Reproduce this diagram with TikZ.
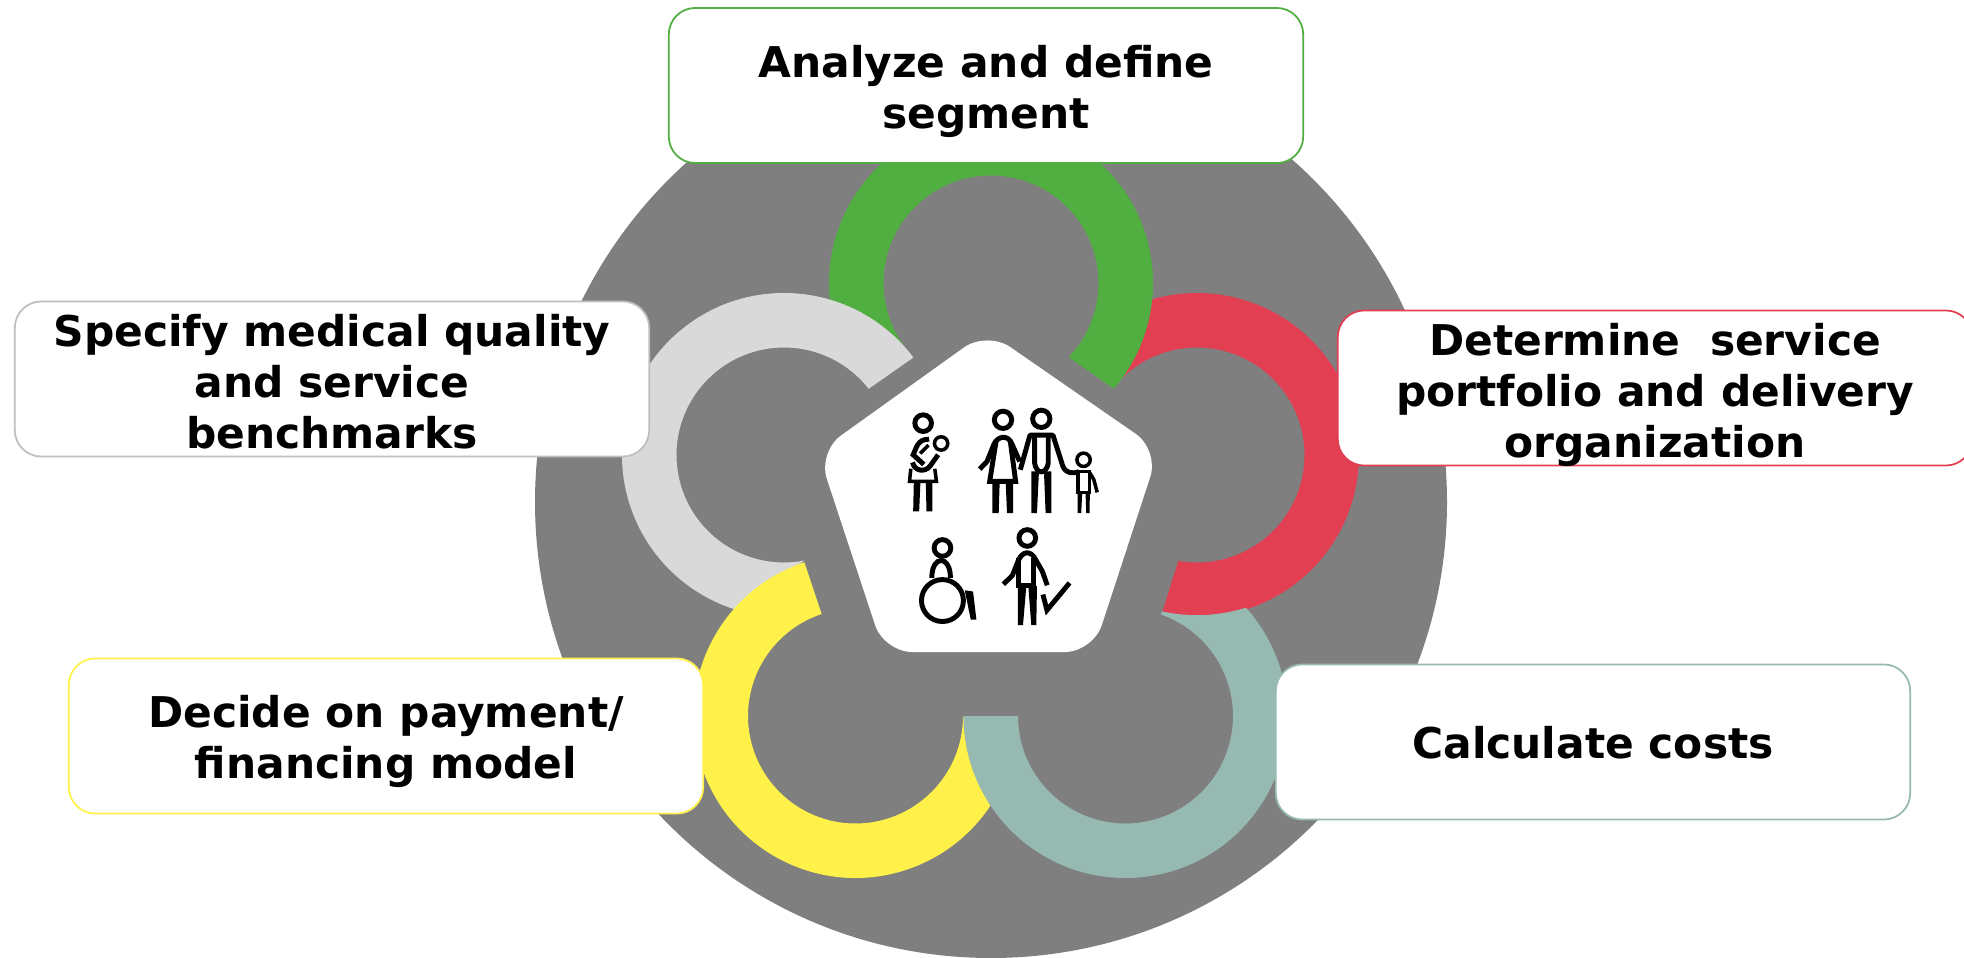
\documentclass[tikz,border=0pt]{standalone}
\usepackage{fontspec}
\setmainfont{DejaVu Sans}
\usetikzlibrary{calc}
\definecolor{bggray}{HTML}{7F7F7F}
\definecolor{ringgreen}{HTML}{51AE40}
\definecolor{ringred}{HTML}{E23F53}
\definecolor{ringgray}{HTML}{D9D9D9}
\definecolor{ringyellow}{HTML}{FFF14A}
\definecolor{ringteal}{HTML}{96B9B2}
\definecolor{edgegray}{HTML}{BFBFBF}
\tikzset{
	stepbox/.style={draw,fill=white,line width=0.5pt,rounded corners=7.5pt,minimum width=6.34cm,minimum height=1.55cm,inner sep=0pt},
	steptext/.style={align=center,inner sep=0pt,font=\fontsize{12.05}{14.5}\selectfont\bfseries},
	iconline/.style={draw=black,line width=1.4pt},
	iconthin/.style={draw=black,line width=1pt}
}
\begin{document}
\begin{tikzpicture}[x=0.01cm,y=0.01cm]
	\useasboundingbox (0,0) rectangle (1964,957);
	\coordinate (middle) at (991,455);
	\coordinate (green) at (991,674);
	\coordinate (gray) at (784,502);
	\coordinate (red) at (1197,502);
	\coordinate (yellow) at (855.5,241);
	\coordinate (teal) at (1125.5,241);
	
	\fill[bggray] (middle) circle [radius=456];
	
	\fill[ringred] (red) ++(-102.5:162) arc [start angle=-102.5,end angle=105.8,radius=162] -- ($(red)+(141:107.5)$) arc [start angle=141,end angle=-100,radius=107.5] -- cycle;
	\fill[ringgreen] (green) ++(-40.7:162) arc [start angle=-40.7,end angle=186,radius=162] -- ($(green)+(224:107.5)$) arc [start angle=224,end angle=-43.7,radius=107.5] -- cycle;
	\fill[ringgray] (gray) ++(37:162) arc [start angle=37,end angle=252,radius=162] -- ($(gray)+(281:107.5)$) arc [start angle=281,end angle=38,radius=107.5] -- cycle;
	\fill[ringyellow] (yellow) ++(108.4:162) arc [start angle=108.4,end angle=326.5,radius=162] -- ($(yellow)+(0:107.5)$) arc [start angle=360,end angle=108.4,radius=107.5] -- cycle;
	\fill[ringteal] (teal) ++(180:162) arc [start angle=180,end angle=402,radius=162] arc [start angle=-72.4,end angle=-102.5,radius=162] -- ($(teal)+(70.7:107.5)$) arc [start angle=70.7,end angle=-180,radius=107.5] -- cycle;
	
	\node[stepbox,draw=ringgreen] (segment) at (986,871.5) {};
	\node[steptext,yshift=-0.06cm] (segmenttext) at (segment) {Analyze and define\\segment};
	\node[stepbox,draw=edgegray] (benchmarks) at (332,578) {};
	\node[steptext,yshift=-0.025cm] (benchmarkstext) at (benchmarks) {Specify medical quality\\and service\\benchmarks};
	\node[stepbox,draw=ringred] (portfolio) at (1655,569) {};
	\node[steptext,yshift=-0.065cm] (portfoliotext) at (portfolio) {Determine \ service\\portfolio and delivery\\organization};
	\node[stepbox,draw=ringyellow] (financing) at (386,221) {};
	\node[steptext,yshift=-0.05cm] (financingtext) at (financing) {Decide on payment/\\financing model};
	\node[stepbox,draw=ringteal] (costs) at (1593,215) {};
	\node[steptext,yshift=-0.01cm] (coststext) at (costs) {Calculate costs};
	
	\fill[white,rounded corners=8pt] (987,626)--(1159,507)--(1093,305)--(884,305)--(818,505)--cycle;
	
	% icons, in steps of a third of a pixel
	\begin{scope}[shift={(800,637)},x=0.00333cm,y=-0.00333cm]
		% mother and baby
		\draw[iconline] (370,310) circle [radius=25];
		\draw[iconthin] (424,371) circle [radius=20];
		\draw[iconline] (388,358) .. controls (352,358) and (350,385) .. (340,405) -- (372,434);
		\draw[iconthin] (361,401) -- (386,376);
		\draw[iconline] (338,428) .. controls (345,455) and (375,458) .. (390,440) -- (415,405);
		\draw[iconthin] (333,447) -- (329,485) -- (410,485) -- (405,447);
		\fill (342,485)--(362,485)--(358,575)--(340,575)--cycle;
		\fill (378,485)--(398,485)--(398,575)--(380,575)--cycle;
		% woman
		\draw[iconline] (610,300) circle [radius=26];
		\draw[iconline] (540,448) -- (562,425) -- (582,375) .. controls (592,350) and (625,340) .. (638,375) -- (660,425);
		\draw[iconline] (589,365) -- (570,485) -- (648,485) -- (632,365);
		\fill (578,485)--(600,485)--(597,580)--(578,580)--cycle;
		\fill (618,485)--(640,485)--(640,580)--(622,580)--cycle;
		% man and child
		\draw[iconline] (725,297) circle [radius=26];
		\draw[iconline,line join=round] (662,450) -- (691,346) -- (760,346) -- (790,440) .. controls (800,462) and (820,462) .. (838,456);
		\draw[iconline] (705,346) -- (705,430) .. controls (710,465) and (740,465) .. (746,430) -- (746,346);
		\fill (695,455)--(718,455)--(712,580)--(695,580)--cycle;
		\fill (733,455)--(755,455)--(755,580)--(738,580)--cycle;
		\draw[iconthin] (852,420) circle [radius=20];
		\draw[iconthin] (835,455) rectangle (870,518);
		\draw[iconthin] (870,458) -- (883,480) -- (893,518);
		\fill (834,518)--(848,518)--(845,580)--(834,580)--cycle;
		\fill (858,518)--(871,518)--(870,580)--(860,580)--cycle;
		% wheelchair
		\draw[iconline] (428,685) circle [radius=25];
		\draw[iconline] (396,775) .. controls (396,705) and (452,705) .. (452,775);
		\draw[iconline] (428,843) circle [radius=63];
		\fill (495,812)--(520,816)--(530,900)--(513,900)--cycle;
		% person with check mark
		\draw[iconline] (683,655) circle [radius=25];
		\draw[iconline] (611,794) -- (638,768) -- (655,725) .. controls (668,692) and (695,692) .. (708,720) -- (728,755) -- (743,797);
		\draw[iconline] (656,715) -- (656,797) -- (702,797) -- (702,715);
		\fill (655,800)--(680,800)--(670,917)--(655,917)--cycle;
		\fill (686,800)--(712,800)--(710,917)--(695,917)--cycle;
		\draw[iconline] (730,825) -- (742,872) -- (810,790);
	\end{scope}
\end{tikzpicture}
\end{document}
